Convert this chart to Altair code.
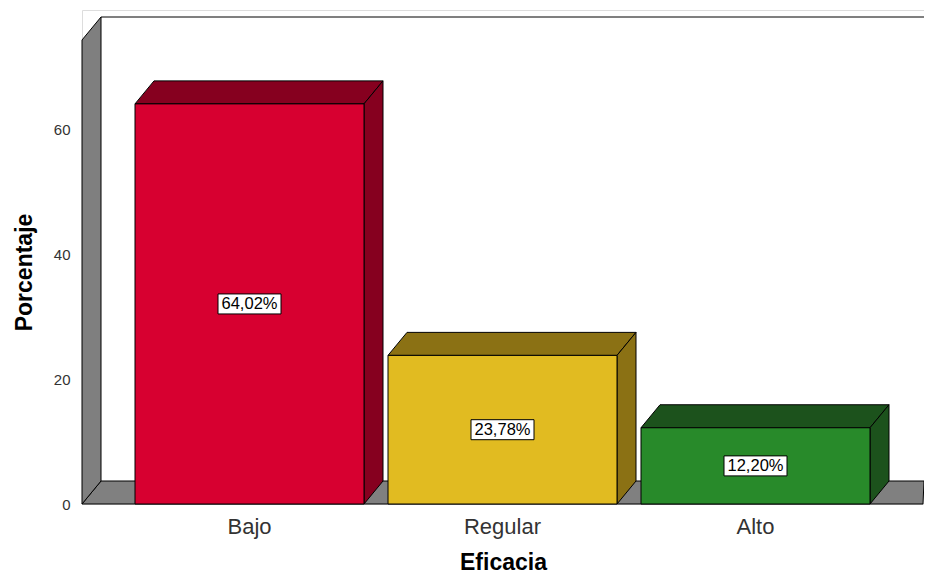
import altair as alt
import pandas as pd

# ---- data ----
categories = ["Bajo", "Regular", "Alto"]
percentages = [64.02, 23.78, 12.20]
value_labels = ["64,02%", "23,78%", "12,20%"]
front_colors = ["#d70030", "#e1bb21", "#288a2a"]
shade_colors = ["#86001f", "#8b7114", "#1c521c"]
y_ticks = [0, 20, 40, 60]
x_title = "Eficacia"
y_title = "Porcentaje"

# ---- layout / style constants ----
W, H = 842, 494
Y_MAX = 79.04
PX = H / Y_MAX          # pixels per percent
DX = 19                  # depth offset (x units are pixels)
DY = 23 / PX             # depth offset in percent units
BAR_W = 229
STEP = 253
OFFSET = 53
WALL_TOP = 77.92
FLOOR_END = 841
FONT = "Liberation Sans"
WALL_GRAY = "#7f7f7f"

x_scale = alt.Scale(domain=[0, W], nice=False, zero=False)
y_scale = alt.Scale(domain=[0, Y_MAX], nice=False)
x_axis = alt.Axis(labels=False, ticks=False, domain=False, grid=False,
                  title=x_title, titleFontSize=23, titleFont=FONT, titleFontWeight="bold",
                  titleColor="#000000", titlePadding=47, titleX=421)
y_axis = alt.Axis(values=y_ticks, ticks=False, domain=False, grid=False,
                  labelFontSize=15, labelFont=FONT, labelColor="#333333", labelPadding=12,
                  title=y_title, titleFontSize=23, titleFont=FONT, titleFontWeight="bold",
                  titleColor="#000000", titlePadding=17, titleY=262)

# ---- tables built from the arrays ----
front_rows, top_rows, side_rows = [], [], []
for i, (c, v, lab, fc, sc) in enumerate(zip(categories, percentages, value_labels, front_colors, shade_colors)):
    x0 = OFFSET + i * STEP
    x1 = x0 + BAR_W
    front_rows.append(dict(cat=c, x0=x0, x1=x1, v=v, mid=v / 2, cx=(x0 + x1) / 2,
                           bx0=(x0 + x1) / 2 - 31.5, bx1=(x0 + x1) / 2 + 31.5,
                           by0=v / 2 - 10 / PX, by1=v / 2 + 10 / PX,
                           label=lab, fill=fc))
    top_rows += [dict(cat=c, y=v, xa=x0, xb=x1, fill=sc),
                 dict(cat=c, y=v + DY, xa=x0 + DX, xb=x1 + DX, fill=sc)]
    side_rows += [dict(cat=c, x=x1, ya=0, yb=v, fill=sc),
                  dict(cat=c, x=x1 + DX, ya=DY, yb=v + DY, fill=sc)]
front = pd.DataFrame(front_rows)
top = pd.DataFrame(top_rows)
side = pd.DataFrame(side_rows)

# floor parallelogram, cut at the right edge of the plot (as the reference is cut by the frame)
floor = pd.DataFrame([dict(y=0, xa=0, xb=FLOOR_END), dict(y=DY, xa=DX, xb=W)])
lwall = pd.DataFrame([dict(x=0, ya=0, yb=WALL_TOP - DY), dict(x=DX, ya=DY, yb=WALL_TOP)])
bwall = pd.DataFrame([dict(x0=DX, x1=W, y1=WALL_TOP)])

stroke = dict(stroke="#000000", strokeWidth=1)

back_top = alt.Chart(bwall).mark_rule(color="#000000", strokeWidth=1).encode(
    x=alt.X("x0:Q", scale=x_scale, axis=x_axis), x2="x1:Q",
    y=alt.Y("y1:Q", scale=y_scale, axis=y_axis))

floor_l = alt.Chart(floor).mark_area(orient="horizontal", fill="#808080", **stroke).encode(
    y=alt.Y("y:Q", scale=y_scale, axis=y_axis),
    x=alt.X("xa:Q", scale=x_scale, axis=x_axis), x2="xb:Q")

left_wall = alt.Chart(lwall).mark_area(orient="vertical", fill=WALL_GRAY, **stroke).encode(
    x=alt.X("x:Q", scale=x_scale, axis=x_axis),
    y=alt.Y("ya:Q", scale=y_scale, axis=y_axis), y2="yb:Q")

top_face = alt.Chart(top).mark_area(orient="horizontal", **stroke).encode(
    y=alt.Y("y:Q", scale=y_scale, axis=y_axis),
    x=alt.X("xa:Q", scale=x_scale, axis=x_axis), x2="xb:Q",
    fill=alt.Fill("fill:N", scale=None), detail="cat:N")

side_face = alt.Chart(side).mark_area(orient="vertical", **stroke).encode(
    x=alt.X("x:Q", scale=x_scale, axis=x_axis),
    y=alt.Y("ya:Q", scale=y_scale, axis=y_axis), y2="yb:Q",
    fill=alt.Fill("fill:N", scale=None), detail="cat:N")

front_face = alt.Chart(front).mark_rect(**stroke).encode(
    x=alt.X("x0:Q", scale=x_scale, axis=x_axis), x2="x1:Q",
    y=alt.Y("v:Q", scale=y_scale, axis=y_axis), y2=alt.Y2(datum=0),
    fill=alt.Fill("fill:N", scale=None))

label_box = alt.Chart(front).mark_rect(fill="#ffffff", **stroke).encode(
    x=alt.X("bx0:Q", scale=x_scale, axis=x_axis), x2="bx1:Q",
    y=alt.Y("by0:Q", scale=y_scale, axis=y_axis), y2="by1:Q")

label_text = alt.Chart(front).mark_text(font=FONT, fontSize=16.5, color="#000000", baseline="middle").encode(
    x=alt.X("cx:Q", scale=x_scale, axis=x_axis),
    y=alt.Y("mid:Q", scale=y_scale, axis=y_axis),
    text="label:N")

cat_text = alt.Chart(front).mark_text(font=FONT, fontSize=22, color="#333333", baseline="middle").encode(
    x=alt.X("cx:Q", scale=x_scale, axis=x_axis),
    y=alt.value(H + 23),
    text="cat:N")

chart = alt.layer(
    back_top, floor_l, left_wall, top_face, side_face, front_face,
    label_box, label_text, cat_text
).properties(
    width=W, height=H,
    autosize=alt.AutoSizeParams(type="none"),
    padding={"left": 74, "top": 2, "right": 0, "bottom": 74},
).configure_view(stroke=None).configure(background="#ffffff")

chart.save("out.html", embed_options={"renderer": "svg", "actions": False})
